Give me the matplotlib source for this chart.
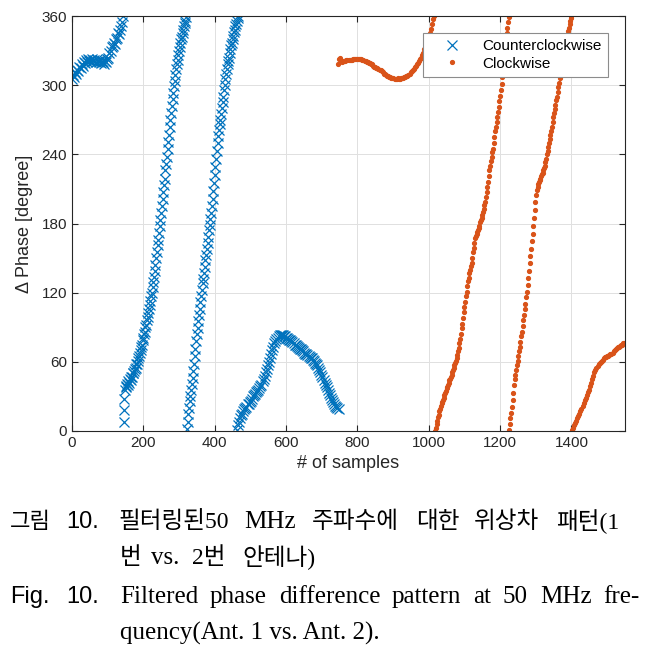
import numpy as np
import matplotlib
matplotlib.use('Agg')
import matplotlib.pyplot as plt

# ---------------- data ----------------
# Counterclockwise: sample index and delta phase [deg], one list per wrap segment
ccw_x1 = [0, 3, 6, 9, 12, 15, 18, 21, 24, 27, 30, 33, 36, 39, 42, 45, 48, 51, 54, 57,
          60, 63, 66, 69, 72, 75, 78, 81, 84, 87, 90, 93, 96, 99, 102, 105, 108, 111, 114,
          117, 120, 123, 126, 129, 132, 135, 138, 141, 144]
ccw_y1 = [305, 309, 307, 311, 310, 313, 312, 316, 315, 318, 317, 320, 319, 322, 320, 323, 321, 322, 320, 323,
          321, 322, 320, 323, 321, 320, 322, 319, 321, 320, 318, 321, 320, 323, 324, 328, 330, 333, 334,
          337, 336, 340, 341, 345, 344, 348, 351, 355, 360]

ccw_x2 = [145, 146, 146, 148, 150, 152, 154, 156, 158, 160, 162, 164, 166, 168, 170, 172, 174,
          176, 178, 180, 182, 184, 186, 188, 190, 192, 194, 196, 198, 200, 202, 204, 206, 208,
          210, 212, 214, 216, 218, 220, 222, 224, 226, 228, 230, 232, 234, 236, 238, 240, 242,
          244, 246, 248, 250, 252, 254, 256, 258, 260, 262, 264, 266, 268, 270, 272, 274, 276,
          278, 280, 282, 284, 286, 288, 290, 292, 294, 296, 298, 300, 302, 304, 306, 308, 310,
          312, 314, 316, 318, 320]
ccw_y2 = [8, 18, 28, 36, 39, 38, 41, 40, 43, 42, 45, 44, 47, 47, 50, 50, 52,
          54, 55, 58, 58, 61, 63, 65, 68, 70, 73, 75, 79, 81, 84, 86, 90, 92,
          96, 99, 102, 106, 109, 113, 117, 120, 125, 129, 134, 139, 144, 150, 155, 161, 166,
          172, 178, 183, 189, 195, 201, 207, 213, 219, 226, 232, 238, 245, 251, 257, 264, 270,
          276, 282, 288, 293, 299, 304, 309, 314, 318, 322, 326, 330, 333, 337, 340, 342, 345,
          348, 351, 354, 356, 359]

ccw_x3 = [322, 324, 326, 328, 330, 332, 334, 336, 338, 340, 342, 344, 346, 348, 350, 352, 354,
          356, 358, 360, 362, 364, 366, 368, 370, 372, 374, 376, 378, 380, 382, 384, 386, 388,
          390, 392, 394, 396, 398, 400, 402, 404, 406, 408, 410, 412, 414, 416, 418, 420, 422,
          424, 426, 428, 430, 432, 434, 436, 438, 440, 442, 444, 446, 448, 450, 452, 454, 456,
          458, 460, 462, 464, 466]
ccw_y3 = [2, 8, 15, 20, 26, 30, 36, 41, 46, 52, 58, 65, 71, 78, 84, 89, 95,
          101, 106, 112, 117, 122, 128, 132, 137, 142, 148, 153, 158, 163, 168, 174, 179, 184,
          189, 195, 201, 208, 215, 222, 229, 236, 243, 250, 256, 261, 266, 270, 275, 280, 285,
          290, 296, 300, 305, 310, 314, 318, 321, 324, 328, 331, 335, 337, 340, 343, 346, 348,
          351, 353, 356, 358, 360]

ccw_x4 = [462, 465, 468, 471, 474, 477, 480, 483, 486, 489, 492, 495, 498, 501, 504, 507, 510,
          513, 516, 519, 522, 525, 528, 531, 534, 537, 540, 543, 546, 549, 552, 555, 558, 561,
          564, 567, 570, 573, 576, 579, 582, 585, 588, 591, 594, 597, 600, 603, 606, 609, 612,
          615, 618, 621, 624, 627, 630, 633, 636, 639, 642, 645, 648, 651, 654, 657, 660, 663,
          666, 669, 672, 675, 678, 681, 684, 687, 690, 693, 696, 699, 702, 705, 708, 711, 714,
          717, 720, 723, 726, 729, 732, 735, 738, 741, 744, 747]
ccw_y4 = [1, 5, 8, 11, 14, 15, 17, 19, 20, 21, 23, 23, 25, 26, 28, 30, 31,
          32, 34, 35, 36, 37, 39, 40, 43, 45, 48, 51, 54, 57, 60, 63, 67, 70,
          73, 76, 78, 80, 81, 82, 83, 83, 83, 83, 82, 82, 81, 81, 80, 79, 79,
          78, 77, 76, 75, 75, 74, 73, 72, 71, 71, 70, 69, 68, 67, 67, 66, 65,
          64, 63, 63, 62, 61, 59, 58, 57, 55, 53, 51, 49, 47, 44, 42, 40, 38,
          36, 33, 31, 29, 27, 25, 23, 22, 21, 20, 19]

# Clockwise
cw_x1 = [745, 748, 751, 754, 757, 760, 763, 766, 769, 772, 775, 778, 781, 784, 787, 790, 793,
         796, 799, 802, 805, 808, 811, 814, 817, 820, 823, 826, 829, 832, 835, 838, 841, 844,
         847, 850, 853, 856, 859, 862, 865, 868, 871, 874, 877, 880, 883, 886, 889, 892, 895,
         898, 901, 904, 907, 910, 913, 916, 919, 922, 925, 928, 931, 934, 937, 940, 943, 946,
         949, 952, 955, 958, 961, 964, 967, 970, 973, 976, 979, 982, 985, 988, 991, 994, 997,
         1000, 1003, 1006, 1009, 1012, 1014]
cw_y1 = [318, 323, 324, 321, 320, 321, 321, 321, 322, 322, 322, 322, 322, 322, 323, 323, 323,
         323, 323, 323, 323, 323, 323, 322, 322, 321, 321, 320, 320, 319, 319, 318, 318, 317,
         316, 316, 315, 315, 314, 313, 313, 312, 311, 310, 310, 309, 308, 308, 307, 307, 306,
         306, 306, 305, 305, 305, 306, 305, 305, 306, 306, 306, 307, 307, 308, 308, 309, 310,
         311, 312, 313, 314, 316, 317, 318, 319, 321, 323, 324, 326, 328, 331, 333, 336, 338,
         341, 345, 349, 353, 357, 360]

cw_x2 = [1018, 1020, 1022, 1024, 1026, 1028, 1030, 1032, 1034, 1036, 1038, 1040, 1042, 1044,
         1046, 1048, 1050, 1052, 1054, 1056, 1058, 1060, 1062, 1064, 1066, 1068, 1070, 1072,
         1074, 1076, 1078, 1080, 1082, 1084, 1086, 1088, 1090, 1092, 1094, 1096, 1098, 1100,
         1102, 1104, 1106, 1108, 1110, 1112, 1114, 1116, 1118, 1120, 1122, 1124, 1126, 1128,
         1130, 1132, 1134, 1136, 1138, 1140, 1142, 1144, 1146, 1148, 1150, 1152, 1154, 1156,
         1158, 1160, 1162, 1164, 1166, 1168, 1170, 1172, 1174, 1176, 1178, 1180, 1182, 1184,
         1186, 1188, 1190, 1192, 1194, 1196, 1198, 1200, 1202, 1204, 1206, 1208, 1210, 1212,
         1214, 1216, 1218, 1220, 1222, 1224]
cw_y2 = [0, 3, 6, 9, 12, 14, 17, 19, 22, 24, 25, 27, 29, 31,
         33, 35, 37, 38, 40, 42, 44, 45, 47, 49, 51, 53, 55, 57,
         59, 61, 63, 66, 69, 72, 76, 80, 84, 89, 93, 98, 103, 108,
         112, 117, 121, 126, 130, 133, 137, 140, 143, 146, 150, 155, 159, 163,
         167, 169, 171, 173, 174, 176, 178, 181, 183, 185, 187, 190, 193, 196,
         199, 203, 207, 212, 216, 221, 226, 230, 234, 238, 242, 245, 250, 255,
         260, 264, 268, 272, 277, 281, 286, 291, 296, 301, 307, 313, 320, 326,
         333, 339, 345, 350, 355, 359]

cw_x3 = [1225, 1227, 1229, 1231, 1233, 1235, 1237, 1239, 1241, 1243, 1245, 1247, 1249, 1251,
         1253, 1255, 1257, 1259, 1261, 1263, 1265, 1267, 1269, 1271, 1273, 1275, 1277, 1279,
         1281, 1283, 1285, 1287, 1289, 1291, 1293, 1295, 1297, 1299, 1301, 1303, 1305, 1307,
         1309, 1311, 1313, 1315, 1317, 1319, 1321, 1323, 1325, 1327, 1329, 1331, 1333, 1335,
         1337, 1339, 1341, 1343, 1345, 1347, 1349, 1351, 1353, 1355, 1357, 1359, 1361, 1363,
         1365, 1367, 1369, 1371, 1373, 1375, 1377, 1379, 1381, 1383, 1385, 1387, 1389, 1391,
         1393, 1395, 1397, 1399, 1400]
cw_y3 = [1, 6, 11, 16, 21, 27, 33, 40, 45, 49, 53, 57, 61, 65,
         69, 73, 77, 82, 86, 91, 96, 101, 106, 110, 116, 121, 127, 133,
         139, 146, 152, 158, 165, 171, 178, 185, 192, 199, 205, 209, 212, 214,
         216, 218, 219, 221, 223, 224, 226, 228, 230, 233, 236, 240, 243, 246,
         250, 253, 257, 260, 264, 268, 272, 276, 279, 283, 287, 290, 294, 298,
         302, 306, 309, 313, 317, 320, 324, 327, 331, 334, 337, 340, 344, 347,
         350, 353, 356, 358, 360]

cw_x4 = [1401, 1404, 1407, 1410, 1413, 1416, 1419, 1422, 1425, 1428, 1431, 1434, 1437, 1440,
         1443, 1446, 1449, 1452, 1455, 1458, 1461, 1464, 1467, 1470, 1473, 1476, 1479, 1482,
         1485, 1488, 1491, 1494, 1497, 1500, 1503, 1506, 1509, 1512, 1515, 1518, 1521, 1524,
         1527, 1530, 1533, 1536, 1539, 1542, 1545, 1548, 1550]
cw_y4 = [1, 3, 5, 7, 9, 11, 13, 15, 17, 19, 22, 24, 27, 29,
         31, 34, 36, 39, 42, 45, 48, 51, 53, 55, 56, 58, 59, 60,
         61, 62, 63, 64, 64, 65, 65, 66, 67, 67, 68, 69, 70, 71,
         72, 73, 73, 74, 75, 75, 76, 76, 76]

x_ticks = [0, 200, 400, 600, 800, 1000, 1200, 1400]
y_ticks = [0, 60, 120, 180, 240, 300, 360]

# caption words: (text, left x in px, font kind, size)
caption_l1 = [('그림', 10, 'sans', 16), ('10.', 66, 'sans', 17), ('필터링된50', 118, 'serif', 17),
              ('MHz', 244, 'serif', 18), ('주파수에', 312, 'serif', 17), ('대한', 416, 'serif', 17),
              ('위상차', 474, 'serif', 17), ('패턴(1', 556, 'serif', 17)]
caption_l2 = [('번', 120, 'serif', 17), ('vs.', 151, 'serif', 18), ('2번', 192, 'serif', 17),
              ('안테나)', 242, 'serif', 17)]
caption_l3 = [('Fig.', 10, 'sans', 17), ('10.', 66, 'sans', 17), ('Filtered', 120, 'serif', 18),
              ('phase', 210, 'serif', 18), ('difference', 279, 'serif', 18), ('pattern', 392, 'serif', 18),
              ('at', 473, 'serif', 18), ('50', 503, 'serif', 18), ('MHz', 540, 'serif', 18),
              ('fre-', 603, 'serif', 18)]
caption_l4 = [('quency(Ant. 1 vs. Ant. 2).', 120, 'serif', 18)]

# ---------------- figure ----------------
W, H = 648, 650
fig = plt.figure(figsize=(W / 100, H / 100), dpi=100)
ax = fig.add_axes([72 / W, 1 - 431 / H, (625 - 72) / W, (431 - 16) / H])

blue = '#0072BD'
orange = '#D95319'
ccw_x = ccw_x1 + ccw_x2 + ccw_x3 + ccw_x4
ccw_y = ccw_y1 + ccw_y2 + ccw_y3 + ccw_y4
cw_x = cw_x1 + cw_x2 + cw_x3 + cw_x4
cw_y = cw_y1 + cw_y2 + cw_y3 + cw_y4
ax.plot(ccw_x, ccw_y, ls='none', marker='x', ms=6.5, mew=0.9, color=blue, label='Counterclockwise')
ax.plot(cw_x, cw_y, ls='none', marker='.', ms=5.5, color=orange, label='Clockwise')

ax.set_xlim(0, 1550)
ax.set_ylim(0, 360)
ax.set_xticks(x_ticks)
ax.set_yticks(y_ticks)
ax.grid(True, color='#e0e0e0', lw=0.7)
ax.set_axisbelow(True)
ax.tick_params(direction='in', top=True, right=True, labelsize=11, colors='#262626', length=4)
for s in ax.spines.values():
    s.set_color('#262626')
    s.set_linewidth(0.8)
ax.set_xlabel('# of samples', fontsize=13, color='#262626', family='Liberation Sans', labelpad=4)
ax.set_ylabel('Δ Phase [degree]', fontsize=13, color='#262626', family='Liberation Sans', labelpad=6)
for lab in ax.get_xticklabels() + ax.get_yticklabels():
    lab.set_family('Liberation Sans')

leg = ax.legend(loc='upper right', frameon=True, fancybox=False, framealpha=1,
                edgecolor='#8c8c8c', borderaxespad=1.1, handlelength=3.0, handletextpad=0.5,
                borderpad=0.4, labelspacing=0.25, prop={'family': 'Liberation Sans', 'size': 11})
leg.get_frame().set_linewidth(0.8)

fams = {'sans': ['Liberation Sans', 'Noto Sans CJK KR'],
        'serif': ['Liberation Serif', 'Noto Sans CJK KR']}

for words, y in [(caption_l1, 522), (caption_l2, 558), (caption_l3, 597), (caption_l4, 633)]:
    for t, x, k, fs in words:
        fig.text(x / W, 1 - y / H, t, ha='left', va='center', fontsize=fs,
                 family=fams[k], color='black')

fig.savefig('out.png', dpi=100)
